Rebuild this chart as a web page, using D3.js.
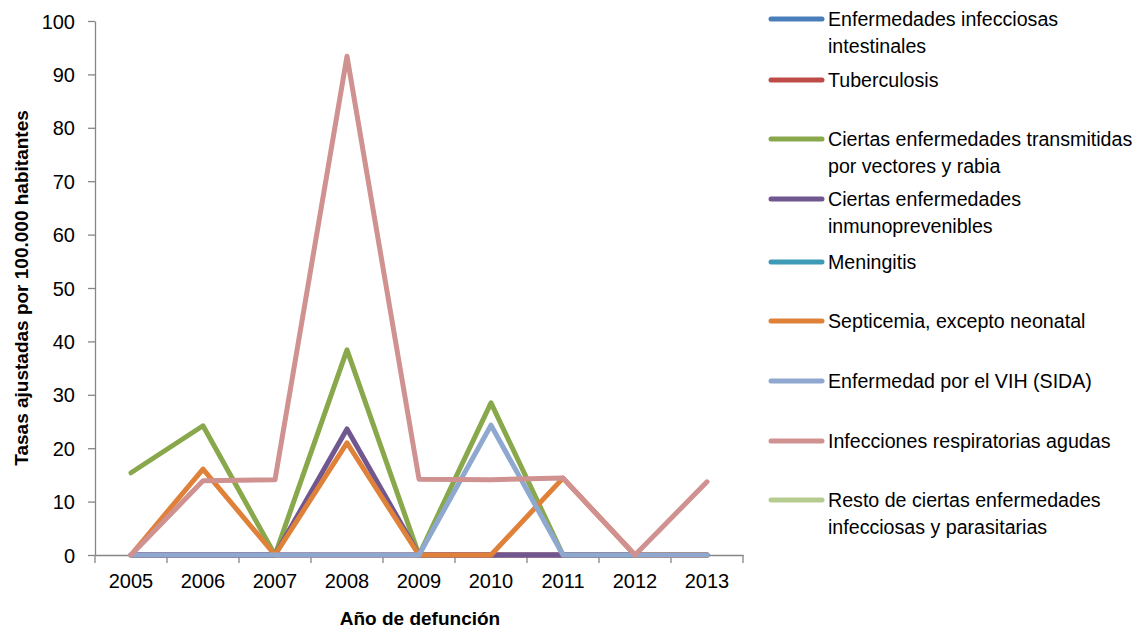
<!DOCTYPE html>
<html>
<head>
<meta charset="utf-8">
<script src="https://cdn.jsdelivr.net/npm/d3@7"></script>
<style>
  html, body { margin: 0; padding: 0; background: #fff; }
  text { font-family: "Liberation Sans", Arial, sans-serif; }
</style>
</head>
<body>
<svg id="chart" width="1138" height="630"></svg>
<script>
// Años de defunción
const years = ["2005", "2006", "2007", "2008", "2009", "2010", "2011", "2012", "2013"];
const yTicks = [0, 10, 20, 30, 40, 50, 60, 70, 80, 90, 100];

// Tasas ajustadas por 100.000 habitantes, por grupo de causas
const intestinales   = [0, 0, 0, 0, 0, 0, 0, 0, 0];
const tuberculosis   = [0, 0, 0, 0, 0, 0, 0, 0, 0];
const vectores       = [15.4, 24.2, 0, 38.4, 0, 28.5, 0, 0, 0];
const inmuno         = [0, 0, 0, 23.6, 0, 0, 0, 0, 0];
const meningitis     = [null, null, null, null, null, null, null, null, null];
const septicemia     = [0, 16.1, 0, 21.0, 0, 0, 14.4, 0, 0];
const vih            = [0, 0, 0, 0, 0, 24.3, 0, 0, 0];
const respiratorias  = [0, 13.9, 14.1, 93.4, 14.2, 14.1, 14.4, 0, 13.7];
const resto          = [null, null, null, null, null, null, null, null, null];

const seriesNames = [
  ["Enfermedades infecciosas", "intestinales"],
  ["Tuberculosis"],
  ["Ciertas enfermedades transmitidas", "por vectores y rabia"],
  ["Ciertas enfermedades", "inmunoprevenibles"],
  ["Meningitis"],
  ["Septicemia, excepto neonatal"],
  ["Enfermedad por el VIH (SIDA)"],
  ["Infecciones respiratorias agudas"],
  ["Resto de ciertas enfermedades", "infecciosas y parasitarias"]
];
const seriesValues = [intestinales, tuberculosis, vectores, inmuno, meningitis,
                      septicemia, vih, respiratorias, resto];
const seriesColors = ["#4A7EBB", "#BE4B48", "#88A84B", "#70578F", "#3D9BB5",
                      "#E0813A", "#8EA8D0", "#D09191", "#B6CC8F"];

const svg = d3.select("#chart");
const axisColor = "#868686";

const x = d3.scaleBand().domain(years).range([95, 743]).padding(0);
const y = d3.scaleLinear().domain([0, 100]).range([555, 21]);

// Eje Y
const yAxis = svg.append("g")
  .attr("transform", "translate(95,0)")
  .call(d3.axisLeft(y).tickValues(yTicks).tickSize(7).tickPadding(13).tickSizeOuter(0));
yAxis.select(".domain").attr("stroke", axisColor).attr("stroke-width", 1.3);
yAxis.selectAll(".tick line").attr("stroke", axisColor).attr("stroke-width", 1.3);
yAxis.selectAll(".tick text")
  .attr("fill", "#000").style("font-size", "20px").attr("dy", "0.35em");

// Eje X: etiquetas centradas, marcas en los límites de cada año
const xAxis = svg.append("g")
  .attr("transform", "translate(0,555)")
  .call(d3.axisBottom(x).tickSize(0).tickPadding(19).tickSizeOuter(0));
xAxis.select(".domain").attr("stroke", axisColor).attr("stroke-width", 1.3);
xAxis.selectAll(".tick text").attr("fill", "#000").style("font-size", "20px");
svg.append("g").selectAll("line")
  .data(years.concat(["end"]))
  .join("line")
  .attr("x1", (d, i) => x.range()[0] + i * x.step())
  .attr("x2", (d, i) => x.range()[0] + i * x.step())
  .attr("y1", 555).attr("y2", 563)
  .attr("stroke", axisColor).attr("stroke-width", 1.3);

// Títulos de ejes
svg.append("text")
  .attr("transform", "translate(28,288) rotate(-90)")
  .attr("text-anchor", "middle")
  .style("font-size", "19px").style("font-weight", "bold")
  .text("Tasas ajustadas por 100.000 habitantes");
svg.append("text")
  .attr("x", 420).attr("y", 625)
  .attr("text-anchor", "middle")
  .style("font-size", "19px").style("font-weight", "bold")
  .text("Año de defunción");

// Líneas
const line = d3.line()
  .defined(d => d.v !== null)
  .x(d => x(d.year) + x.bandwidth() / 2)
  .y(d => y(d.v));

svg.append("g").selectAll("path")
  .data(seriesValues.map((vals, i) => ({
    color: seriesColors[i],
    pts: vals.map((v, j) => ({ year: years[j], v }))
  })))
  .join("path")
  .attr("d", d => line(d.pts))
  .attr("fill", "none")
  .attr("stroke", d => d.color)
  .attr("stroke-width", 5)
  .attr("stroke-linejoin", "round")
  .attr("stroke-linecap", "round");

// Leyenda
const legendY = [19, 80, 139, 199, 262, 321, 381, 441, 500];
const legend = svg.append("g");
seriesNames.forEach((lines, i) => {
  const g = legend.append("g").attr("transform", `translate(0,${legendY[i]})`);
  g.append("line")
    .attr("x1", 771).attr("x2", 822).attr("y1", 0).attr("y2", 0)
    .attr("stroke", seriesColors[i]).attr("stroke-width", 5)
    .attr("stroke-linecap", "round");
  lines.forEach((t, k) => {
    g.append("text")
      .attr("transform", `translate(828,${k * 27}) scale(0.935,1)`)
      .attr("dy", "0.35em")
      .style("font-size", "21px")
      .text(t);
  });
});
</script>
</body>
</html>
